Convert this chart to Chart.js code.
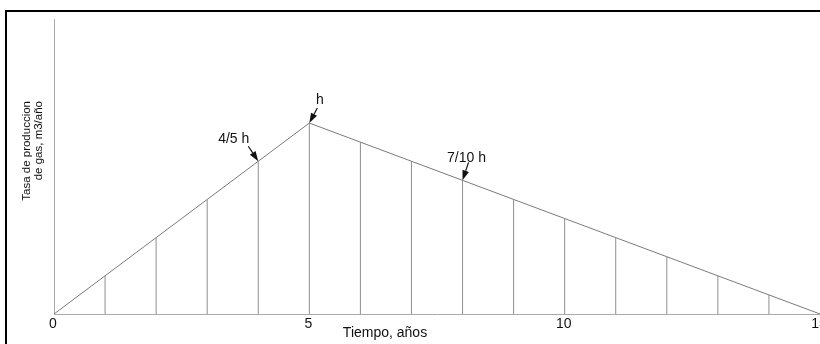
<!DOCTYPE html>
<html><head><meta charset="utf-8">
<script src="https://cdn.jsdelivr.net/npm/chart.js@4"></script>
<style>
html,body{margin:0;padding:0;background:#fff;overflow:hidden}
#wrap{position:relative;width:820px;height:344px}
canvas{position:absolute;left:0;top:0}
#frame{position:absolute;left:5px;top:10px;width:900px;height:400px;border-top:2px solid #000;border-left:2px solid #000;pointer-events:none}
</style></head><body>
<div id="wrap"><canvas id="c" width="820" height="344"></canvas><div id="frame"></div></div>
<script>
// ---- data ----
const years = [0,1,2,3,4,5,6,7,8,9,10,11,12,13,14,15];
const rates = [0,20,40,60,80,100,90,80,70,60,50,40,30,20,10,0]; // % of peak h
const xTickValues = [0,5,10,15];
const xTickLabels = ['0','5','10','15'];
const xTitle = 'Tiempo, años';
const yTitle = ['Tasa de produccion','de gas, m3/año'];
const noteLabels = ['h','4/5 h','7/10 h'];
const noteYears = [5,4,8];

// vertical drop lines built from the data
const drops = [];
for (let i = 1; i < years.length - 1; i++) {
  drops.push({x: years[i], y: 0}, {x: years[i], y: rates[i]}, {x: years[i], y: null});
}
const tri = years.map((x, i) => ({x, y: rates[i]}));

const FONT = '"Liberation Sans", Arial, sans-serif';

const decor = {
  id: 'decor',
  afterDraw(chart) {
    const ctx = chart.ctx, xs = chart.scales.x, ys = chart.scales.y;
    ctx.save();
    ctx.fillStyle = '#111';
    // x tick labels
    ctx.font = '14px ' + FONT;
    ctx.textAlign = 'center';
    ctx.textBaseline = 'alphabetic';
    xTickValues.forEach((v, i) => ctx.fillText(xTickLabels[i], xs.getPixelForValue(v) - 1, 328));
    // x title
    ctx.fillText(xTitle, 385, 337);
    // y title
    ctx.save();
    ctx.font = '11.5px ' + FONT;
    ctx.rotate(-Math.PI / 2);
    ctx.textAlign = 'right';
    ctx.fillText(yTitle[0], -101, 30);
    ctx.fillText(yTitle[1], -101, 42);
    ctx.restore();
    // annotations with arrows
    const offs = [
      {tx: 320.5 - 310, ty: 104 - 123, sx: 8, sy: -15},
      {tx: 234.5 - 259, ty: 143 - 161, sx: -10, sy: -15},
      {tx: 468 - 464, ty: 163 - 181, sx: 6, sy: -18}
    ];
    ctx.font = '14px ' + FONT;
    ctx.textAlign = 'center';
    noteLabels.forEach((lab, i) => {
      const px = xs.getPixelForValue(noteYears[i]);
      const py = ys.getPixelForValue(rates[years.indexOf(noteYears[i])]);
      const o = offs[i];
      ctx.fillStyle = '#111';
      ctx.fillText(lab, px + o.tx, py + o.ty);
      const sx = px + o.sx, sy = py + o.sy;
      const ang = Math.atan2(py - sy, px - sx);
      const L = 10, W = 3.4;
      const bx = px - L * Math.cos(ang), by = py - L * Math.sin(ang);
      ctx.strokeStyle = '#111';
      ctx.lineWidth = 1.2;
      ctx.beginPath(); ctx.moveTo(sx, sy); ctx.lineTo(bx, by); ctx.stroke();
      ctx.beginPath();
      ctx.moveTo(px, py);
      ctx.lineTo(bx + W * Math.sin(ang), by - W * Math.cos(ang));
      ctx.lineTo(bx - W * Math.sin(ang), by + W * Math.cos(ang));
      ctx.closePath(); ctx.fill();
    });
    ctx.restore();
  }
};

new Chart(document.getElementById('c'), {
  type: 'line',
  data: {
    datasets: [
      {data: tri, borderColor: '#7a7a7a', borderWidth: 1, pointRadius: 0, tension: 0},
      {data: drops, borderColor: '#8f8f8f', borderWidth: 1, pointRadius: 0, spanGaps: false, tension: 0}
    ]
  },
  options: {
    responsive: false,
    animation: false,
    events: [],
    layout: {padding: {left: 54, right: -4, top: 19, bottom: 30}},
    plugins: {legend: {display: false}, tooltip: {enabled: false}},
    scales: {
      x: {type: 'linear', min: 0, max: 15,
          grid: {display: false, drawTicks: false},
          ticks: {display: false},
          border: {color: '#aaa', width: 1}},
      y: {type: 'linear', min: 0, max: 154.5,
          grid: {display: false, drawTicks: false},
          ticks: {display: false},
          border: {color: '#aaa', width: 1}}
    }
  },
  plugins: [decor]
});
</script>
</body></html>
